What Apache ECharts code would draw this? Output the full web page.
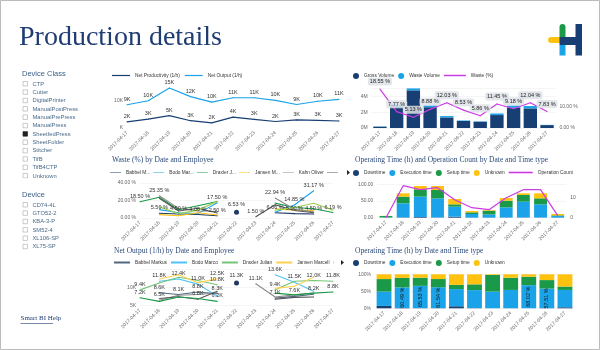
<!DOCTYPE html>
<html>
<head>
<meta charset="utf-8">
<script src="https://cdn.jsdelivr.net/npm/echarts@6/dist/echarts.min.js"></script>
<style>
html, body { margin: 0; padding: 0; background: #fff; }
#main { width: 600px; height: 350px; }
</style>
</head>
<body>
<div id="main"></div>
<script>
const dates = ['2017-04-17', '2017-04-18', '2017-04-19', '2017-04-20', '2017-04-21', '2017-04-22',
  '2017-04-23', '2017-04-24', '2017-04-25', '2017-04-26', '2017-04-27']

const deviceClasses = ['CTP', 'Cutter', 'DigitalPrinter', 'ManualPostPress', 'ManualPrePress', 'ManualPress',
  'SheetfedPress', 'SheetFolder', 'Stitcher', 'TifB', 'TifB4CTP', 'Unknown']
const devices = ['CD74-4L', 'GTO52-2', 'KBA-3-P', 'SM52-4', 'XL106-SP', 'XL75-SP']
const selectedClass = 'SheetfedPress'

// net productivity / output (1/h)
const netProductivity = [2300, 3300, 4600, 2700, 1900, 4000, 3200, 2400, 3000, 2800, 2600]
const netOutput = [8600, 10100, 14800, 11600, 9600, 11200, 11200, 10200, 8700, 9900, 10600]

// volumes
const grossVolume = [170000, 2750000, 4800000, 2650000, 1350000, 900000, 800000, 1650000, 2600000, 2500000, 370000]
const wasteVolume = [30000, 220000, 250000, 240000, 170000, 60000, 50000, 200000, 250000, 300000, 30000]
const wastePct = [18.55, 7.77, 5.13, 8.88, 12.03, 8.53, 5.86, 11.45, 9.18, 12.04, 7.83]

// waste (%) by employee
const employees = ['Babbel Markus', 'Bodo Marco', 'Draxler Julian', 'Jansen Marcell', 'Kahn Oliver',
  'Krüger Jan', 'Lehmann Paul', 'Maurer Tim']
const wasteByEmployee = [
  [null, 5.5, 4.5, 4.0, 2.5, null, null, 6.06, 5.0, 4.5, null],
  [null, 9.57, 6.0, 5.0, 17.5, null, null, 6.5, 14.85, 31.17, null],
  [18.5, 23.66, 9.5, 14.0, 18.87, null, null, 17.0, 12.0, 10.5, 6.19],
  [null, 3.84, 2.5, 6.0, 3.5, null, null, 10.5, 9.0, 8.5, null],
  [null, 25.35, 11.0, 8.0, 7.71, null, null, 22.94, 10.0, 7.0, null],
  [null, 22.59, 8.0, 11.08, 5.72, null, 1.5, 15.21, 8.5, 6.0, null],
  [null, 12.73, 5.0, 9.0, 19.0, null, null, 9.0, 12.0, 16.81, 9.0],
  [null, null, null, null, null, 6.53, null, null, null, null, null]
]
const wasteColors = ['#1f3864', '#1aa3e8', '#1a9a48', '#ffc20e', '#8c8c8c', '#555555', '#9bd250', '#1f3864']

// net output (1/h) by employee
const outputByEmployee = [
  [null, 8600, 8100, 8800, 8300, null, null, 7100, 7600, 8200, null],
  [null, 11800, 12400, 11000, 7700, null, null, 13600, 11500, 9000, null],
  [9400, 11300, 12900, 12000, 10800, null, null, 9400, 11800, 12000, 11800],
  [null, 12400, 13600, 11400, 12500, null, null, 9800, 10400, 12900, null],
  [null, 6500, 7900, 8100, 8600, null, 11100, 7400, 8000, 8500, null],
  [null, 7000, 7500, 6800, 9000, null, null, 6800, 7300, 7400, null],
  [7200, 6200, 7400, 7000, 6200, null, null, 8500, 8000, 8500, 8800],
  [null, null, null, null, null, 11300, null, null, null, null, null]
]
const outputColors = ['#52687e', '#4fc3f7', '#74c476', '#ffd24d', '#8c8c8c', '#555555', '#1a9a48', '#1f3864']

// operating time (h) and count
const timeTypes = ['Downtime', 'Execution time', 'Setup time', 'Unknown']
const timeColors = ['#173f73', '#1aa3e8', '#1a9a48', '#ffc20e']
const opHours = [
  [0, 1, 2, 0.5, 3, 0, 0, 0.5, 0.5, 0.5, 0],
  [1, 42, 61, 57.5, 30, 11, 10, 30.5, 47.5, 39.5, 5],
  [4, 20, 22, 25, 7, 5, 11, 20, 20, 18, 2],
  [0.5, 10, 10, 12, 16, 4, 2, 8, 5, 15, 4]
]
const opCount = [0, 16, 14, 15, 9, 5, 4, 10, 14, 14, 1]

// operating time share (%)
const opShare = [
  [7, 1, 0.5, 0.5, 6, 0.5, 0, 0.3, 0, 0.5, 3],
  [42, 60.49, 65.53, 61.54, 50.5, 53, 49, 53.7, 68.02, 57.51, 51],
  [37, 28, 24, 24, 12.5, 17, 49, 36, 25, 25, 10],
  [14, 10.51, 9.97, 13.96, 31, 29.5, 2, 10, 6.98, 16.99, 36]
]
const shareLabelShown = [false, true, true, true, false, false, false, false, true, true, false]

const SANS = 'Liberation Sans, Arial, sans-serif'
const SERIF = 'Liberation Serif, Times New Roman, serif'
const NAVY = '#173f73'
const LIGHT = '#1aa3e8'
const MAGENTA = '#cc3ae6'
const LINE_ICON = 'path://M0,0H24V1.6H0Z'
const THICK_ICON = 'path://M0,0H24V3H0Z'
const LEGEND_FONT = 4.8

// width taken by a plain horizontal legend, to place the next one after it
const measureCtx = document.createElement('canvas').getContext('2d')
function legendWidth(names, itemWidth, itemGap) {
  measureCtx.font = LEGEND_FONT + 'px ' + SANS
  return names.reduce((s, n) => s + itemWidth + 5 + measureCtx.measureText(n).width + itemGap, 0)
}

function xAx(gridIndex, boundaryGap) {
  return {
    type: 'category', gridIndex, data: dates, boundaryGap,
    axisLine: { show: false }, axisTick: { show: false },
    axisLabel: { rotate: 45, fontSize: 5, color: '#666', fontFamily: SANS, margin: 4, interval: 0 }
  }
}
function yAx(gridIndex, opts) {
  return Object.assign({
    type: 'value', gridIndex,
    axisLine: { show: false }, axisTick: { show: false },
    splitLine: { lineStyle: { color: '#eeeeee', width: 0.6 } }
  }, opts, {
    axisLabel: Object.assign({ fontSize: 5, color: '#666', fontFamily: SANS, margin: 4 }, opts.axisLabel)
  })
}
function smallLabel(extra) {
  return Object.assign({ show: true, fontSize: 5.5, color: '#333', fontFamily: SANS }, extra)
}
const legendText = { fontSize: LEGEND_FONT, color: '#333', fontFamily: SANS }
const titleText = { fontFamily: SERIF, fontSize: 7.5, color: '#2b4a7a', fontWeight: 'normal' }

// sidebar graphics
const graphic = []
graphic.push({ type: 'rect', shape: { x: 0.5, y: 0.5, width: 599, height: 349 }, style: { fill: 'none', stroke: '#bbbbbb', lineWidth: 1 } })
graphic.push({ type: 'text', left: 19, top: 24, style: { text: 'Production details', font: '28px ' + SERIF, fill: '#1f3d73' } })
// logo
graphic.push({ type: 'rect', shape: { x: 548, y: 37, width: 13, height: 6, r: [3, 0, 0, 3] }, style: { fill: '#ffc20e' } })
graphic.push({ type: 'rect', shape: { x: 559.5, y: 24, width: 6, height: 13, r: [3, 3, 0, 0] }, style: { fill: '#1a9a48' } })
graphic.push({ type: 'rect', shape: { x: 559.5, y: 45, width: 6, height: 10.5 }, style: { fill: '#1aa3e8' } })
graphic.push({ type: 'rect', shape: { x: 559.5, y: 37, width: 22, height: 8 }, style: { fill: NAVY } })
graphic.push({ type: 'rect', shape: { x: 575.5, y: 24, width: 6.5, height: 31.5 }, style: { fill: NAVY } })

graphic.push({ type: 'text', left: 22, top: 70, style: { text: 'Device Class', font: '7.5px ' + SANS, fill: '#3a5f86' } })
deviceClasses.forEach((name, i) => {
  const y = 81.5 + i * 8.36
  graphic.push({ type: 'rect', shape: { x: 23, y: y, width: 4.5, height: 4.5 },
    style: { fill: name === selectedClass ? '#222' : '#fff', stroke: name === selectedClass ? '#222' : '#b5b5b5', lineWidth: 0.7 } })
  graphic.push({ type: 'text', left: 32.5, top: y - 0.5, style: { text: name, font: '5.8px ' + SANS, fill: '#4a6a8a' } })
})
graphic.push({ type: 'rect', shape: { x: 18, y: 178.5, width: 80, height: 8 }, style: { fill: '#fff' } })
graphic.push({ type: 'text', left: 22, top: 191, style: { text: 'Device', font: '7.5px ' + SANS, fill: '#3a5f86' } })
devices.forEach((name, i) => {
  const y = 202.5 + i * 8.36
  graphic.push({ type: 'rect', shape: { x: 23, y: y, width: 4.5, height: 4.5 }, style: { fill: '#fff', stroke: '#b5b5b5', lineWidth: 0.7 } })
  graphic.push({ type: 'text', left: 32.5, top: y - 0.5, style: { text: name, font: '5.8px ' + SANS, fill: '#4a6a8a' } })
})
graphic.push({ type: 'text', left: 20.5, top: 315, style: { text: 'Smart BI Help', font: '7px ' + SERIF, fill: '#1f3d73' } })
graphic.push({ type: 'line', shape: { x1: 20.5, y1: 323.5, x2: 53, y2: 323.5 }, style: { stroke: '#1f3d73', lineWidth: 0.6 } })

const series = []

// chart 1
series.push({ name: 'Net Productivity (1/h)', type: 'line', xAxisIndex: 0, yAxisIndex: 0, data: netProductivity,
  symbol: 'circle', symbolSize: 1, color: NAVY, lineStyle: { width: 1.2 },
  label: smallLabel({ position: 'top', distance: 2, formatter: p => Math.round(p.value / 1000) + 'K' }) })
series.push({ name: 'Net Output (1/h)', type: 'line', xAxisIndex: 0, yAxisIndex: 0, data: netOutput,
  symbol: 'circle', symbolSize: 1, color: LIGHT, lineStyle: { width: 1.2 },
  label: smallLabel({ position: 'top', distance: 2, formatter: p => Math.round(p.value / 1000) + 'K' }) })

// chart 2
series.push({ name: 'Gross Volume', type: 'bar', stack: 'vol', xAxisIndex: 1, yAxisIndex: 1, data: grossVolume,
  color: NAVY, barCategoryGap: '20%' })
series.push({ name: 'Waste Volume', type: 'bar', stack: 'vol', xAxisIndex: 1, yAxisIndex: 1, data: wasteVolume,
  color: LIGHT, barCategoryGap: '20%' })
series.push({ name: 'Waste (%)', type: 'line', xAxisIndex: 1, yAxisIndex: 2, data: wastePct, z: 5,
  symbol: 'circle', symbolSize: 1, color: MAGENTA, lineStyle: { width: 1.2 },
  label: smallLabel({ position: 'top', distance: 3, formatter: p => p.value.toFixed(2) + ' %',
    backgroundColor: 'rgba(222,226,232,0.85)', padding: [1, 2], borderRadius: 2, color: '#222' }) })

// chart 3
employees.forEach((name, i) => {
  const dot = i === employees.length - 1
  series.push({ name, type: 'line', xAxisIndex: 2, yAxisIndex: 3, data: wasteByEmployee[i],
    symbol: 'circle', symbolSize: dot ? 5 : 1, color: wasteColors[i], lineStyle: { width: 1.1 },
    labelLayout: { hideOverlap: true },
    label: smallLabel({ position: 'top', distance: 2, formatter: p => p.value.toFixed(2) + ' %' }) })
})

// chart 4
timeTypes.forEach((name, i) => {
  series.push({ name, type: 'bar', stack: 'ops', xAxisIndex: 3, yAxisIndex: 4, data: opHours[i],
    color: timeColors[i], barCategoryGap: '25%' })
})
series.push({ name: 'Operation Count', type: 'line', xAxisIndex: 3, yAxisIndex: 5, data: opCount, z: 5,
  symbol: 'none', color: MAGENTA, lineStyle: { width: 1.2 } })

// chart 5
employees.forEach((name, i) => {
  const dot = i === employees.length - 1
  series.push({ name, type: 'line', xAxisIndex: 4, yAxisIndex: 6, data: outputByEmployee[i],
    symbol: 'circle', symbolSize: dot ? 5 : 1, color: outputColors[i], lineStyle: { width: 1.1 },
    labelLayout: { hideOverlap: true },
    label: smallLabel({ position: 'top', distance: 2, formatter: p => (p.value / 1000).toFixed(1) + 'K' }) })
})

// chart 6
timeTypes.forEach((name, i) => {
  series.push({ name, type: 'bar', stack: 'share', xAxisIndex: 5, yAxisIndex: 7, data: opShare[i],
    color: timeColors[i], barCategoryGap: '18%',
    label: i === 1 ? smallLabel({ position: 'inside', rotate: 90, color: '#1a1a1a',
      formatter: p => shareLabelShown[p.dataIndex] ? p.value.toFixed(2) + ' %' : '' }) : { show: false } })
})

const scrollLegend = {
  type: 'scroll', pageIconSize: 5, pageFormatter: () => '', pageTextStyle: { color: 'rgba(0,0,0,0)', fontSize: 1 },
  pageIconColor: '#222', pageIconInactiveColor: 'rgba(0,0,0,0)', pageButtonItemGap: 0, pageButtonGap: 2
}

const volLegend = ['Gross Volume', 'Waste Volume']
const opsLeft = 353 + legendWidth(timeTypes, 6, 4)
const volLeft = 353 + legendWidth(volLegend, 6, 4)

const option = {
  animation: false,
  textStyle: { fontFamily: SANS },
  graphic,
  title: [
    { text: 'Waste (%) by Date and Employee', left: 112, top: 156, textStyle: titleText, padding: 0 },
    { text: 'Operating Time (h) and Operation Count by Date and Time type', left: 355, top: 156, textStyle: titleText, padding: 0 },
    { text: 'Net Output (1/h) by Date and Employee', left: 114, top: 247, textStyle: titleText, padding: 0 },
    { text: 'Operating Time (h) by Date and Time type', left: 355, top: 247, textStyle: titleText, padding: 0 }
  ],
  legend: [
    { left: 112, top: 73, padding: 0, itemWidth: 18, itemHeight: 6, itemGap: 5, textStyle: legendText,
      data: ['Net Productivity (1/h)', 'Net Output (1/h)'].map(n => ({ name: n, icon: LINE_ICON })) },
    { left: 353, top: 73, padding: 0, itemWidth: 6, itemHeight: 6, itemGap: 4, textStyle: legendText,
      data: volLegend.map(n => ({ name: n, icon: 'circle' })) },
    { left: volLeft, top: 73, padding: 0, itemWidth: 22, itemHeight: 6, textStyle: legendText,
      data: [{ name: 'Waste (%)', icon: LINE_ICON }] },
    Object.assign({ left: 110, top: 170, width: 240, padding: 0, itemWidth: 11, itemHeight: 6, itemGap: 3,
      textStyle: Object.assign({ width: 26.5, overflow: 'truncate', ellipsis: '...' }, legendText),
      data: employees.map((n, i) => ({ name: n, icon: LINE_ICON, itemStyle: { color: wasteColors[i] } })) }, scrollLegend),
    { left: 353, top: 170, padding: 0, itemWidth: 6, itemHeight: 6, itemGap: 4, textStyle: legendText,
      data: timeTypes.map(n => ({ name: n, icon: 'circle' })) },
    { left: opsLeft, top: 170, padding: 0, itemWidth: 24, itemHeight: 6, textStyle: legendText,
      data: [{ name: 'Operation Count', icon: LINE_ICON }] },
    Object.assign({ left: 114, top: 260, width: 230, padding: 0, itemWidth: 16, itemHeight: 6, itemGap: 4,
      textStyle: legendText,
      data: employees.map((n, i) => ({ name: n, icon: THICK_ICON, itemStyle: { color: outputColors[i] } })) }, scrollLegend),
    { left: 353, top: 260, padding: 0, itemWidth: 6, itemHeight: 6, itemGap: 4, textStyle: legendText,
      data: timeTypes.map(n => ({ name: n, icon: 'circle' })) }
  ],
  grid: [
    { left: 127, right: 261, top: 87.5, bottom: 222 },
    { left: 371.6, right: 44.6, top: 88, bottom: 222 },
    { left: 140, right: 267, top: 183, bottom: 132 },
    { left: 377.4, right: 33.7, top: 184.3, bottom: 132.3 },
    { left: 140, right: 267, top: 269.7, bottom: 44.3 },
    { left: 375, right: 26, top: 274.3, bottom: 41.7 }
  ],
  xAxis: [xAx(0, false), xAx(1, true), xAx(2, false), xAx(3, true), xAx(4, false), xAx(5, true)],
  yAxis: [
    yAx(0, { min: 0, max: 15000, interval: 10000, splitLine: { show: false },
      axisLabel: { formatter: v => v === 0 ? 'K' : (v % 10000 === 0 ? v / 1000 + 'K' : '') } }),
    yAx(1, { min: 0, max: 5100000, interval: 2000000,
      axisLabel: { formatter: v => v % 2000000 === 0 ? v / 1000000 + 'M' : '' } }),
    yAx(1, { position: 'right', min: 0, max: 19.05, interval: 10, splitLine: { show: false },
      axisLabel: { formatter: v => v % 10 === 0 ? v.toFixed(2) + ' %' : '' } }),
    yAx(2, { min: 0, max: 40, interval: 20, axisLabel: { formatter: v => v.toFixed(2) + ' %' } }),
    yAx(3, { min: 0, max: 100, interval: 50, axisLabel: { formatter: v => v.toFixed(2) } }),
    yAx(3, { position: 'right', min: 0, max: 16.7, interval: 10, splitLine: { show: false },
      axisLabel: { formatter: v => v % 10 === 0 ? String(v) : '' } }),
    yAx(4, { min: 5000, max: 15000, interval: 5000,
      axisLabel: { formatter: v => v < 15000 ? v / 1000 + 'K' : '' } }),
    yAx(5, { min: 0, max: 100, interval: 50, axisLabel: { formatter: v => v + '%' } })
  ],
  series
}

const chart = echarts.init(document.getElementById('main'))
chart.setOption(option)
</script>
</body>
</html>
